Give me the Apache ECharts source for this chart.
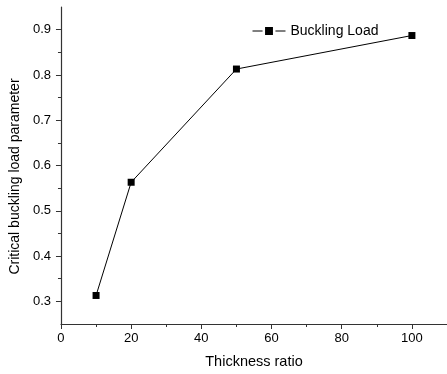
<!DOCTYPE html>
<html><head><meta charset="utf-8">
<script src="https://cdn.jsdelivr.net/npm/echarts@6/dist/echarts.min.js"></script>
<style>html,body{margin:0;padding:0;background:#fff}#c{width:447px;height:374px}</style>
</head><body><div id="c"></div>
<script>
var seriesName = 'Buckling Load';
var xValues = [10, 20, 50, 100];
var yValues = [0.313, 0.563, 0.813, 0.887];
var xMajorTicks = [0, 20, 40, 60, 80, 100];
var xMinorTicks = [10, 30, 50, 70, 90];
var yMajorTicks = [0.3, 0.4, 0.5, 0.6, 0.7, 0.8, 0.9];
var yMinorTicks = [0.35, 0.45, 0.55, 0.65, 0.75, 0.85];
var xTitle = 'Thickness ratio';
var yTitle = 'Critical buckling load parameter';

var font = 'Liberation Sans, Arial, sans-serif';
var axisCol = '#333';
var chart = echarts.init(document.getElementById('c'));
var pts = xValues.map(function (x, i) { return [x, yValues[i]]; });

chart.setOption({
  animation: false,
  backgroundColor: '#fff',
  grid: { left: 57, top: 7, right: 0, bottom: 49, containLabel: false },
  legend: {
    left: 252, top: 24, padding: 0, itemWidth: 33, itemHeight: 13, itemGap: 5,
    textStyle: { fontFamily: font, fontSize: 14, color: '#000' },
    itemStyle: { color: '#000', borderColor: '#fff', borderWidth: 2.5 },
    lineStyle: { width: 1, color: '#000' },
    data: [seriesName]
  },
  xAxis: [{
    type: 'value', min: 0, max: 110, position: 'bottom',
    name: xTitle, nameLocation: 'middle', nameGap: 30,
    nameTextStyle: { fontFamily: font, fontSize: 14.5, color: '#000' },
    axisLine: { show: true, onZero: false, lineStyle: { color: axisCol, width: 1.2 } },
    axisTick: { show: true, inside: false, length: 5, customValues: xMajorTicks, lineStyle: { color: axisCol } },
    axisLabel: { customValues: xMajorTicks, margin: 8, fontFamily: font, fontSize: 13, color: '#000' },
    splitLine: { show: false }
  }, {
    type: 'value', min: 0, max: 110, position: 'bottom',
    axisLine: { show: false },
    axisTick: { show: true, inside: false, length: 3, customValues: xMinorTicks, lineStyle: { color: axisCol } },
    axisLabel: { show: false },
    splitLine: { show: false }
  }],
  yAxis: [{
    type: 'value', min: 0.25, max: 0.95, position: 'left',
    name: yTitle, nameLocation: 'middle', nameGap: 33,
    nameTextStyle: { fontFamily: font, fontSize: 14, color: '#000', padding: [0, 22, 0, 0] },
    axisLine: { show: true, onZero: false, lineStyle: { color: axisCol, width: 1.2 } },
    axisTick: { show: true, inside: false, length: 5, customValues: yMajorTicks, lineStyle: { color: axisCol } },
    axisLabel: { customValues: yMajorTicks, margin: 10, fontFamily: font, fontSize: 13, color: '#000',
      formatter: function (v) { return v.toFixed(1); } },
    splitLine: { show: false }
  }, {
    type: 'value', min: 0.25, max: 0.95, position: 'left',
    axisLine: { show: false },
    axisTick: { show: true, inside: false, length: 3, customValues: yMinorTicks, lineStyle: { color: axisCol } },
    axisLabel: { show: false },
    splitLine: { show: false }
  }],
  series: [{
    name: seriesName, type: 'line', data: pts,
    symbol: 'rect', symbolSize: 7, showSymbol: true,
    lineStyle: { color: '#000', width: 1 },
    itemStyle: { color: '#000' }
  }]
});
</script></body></html>
